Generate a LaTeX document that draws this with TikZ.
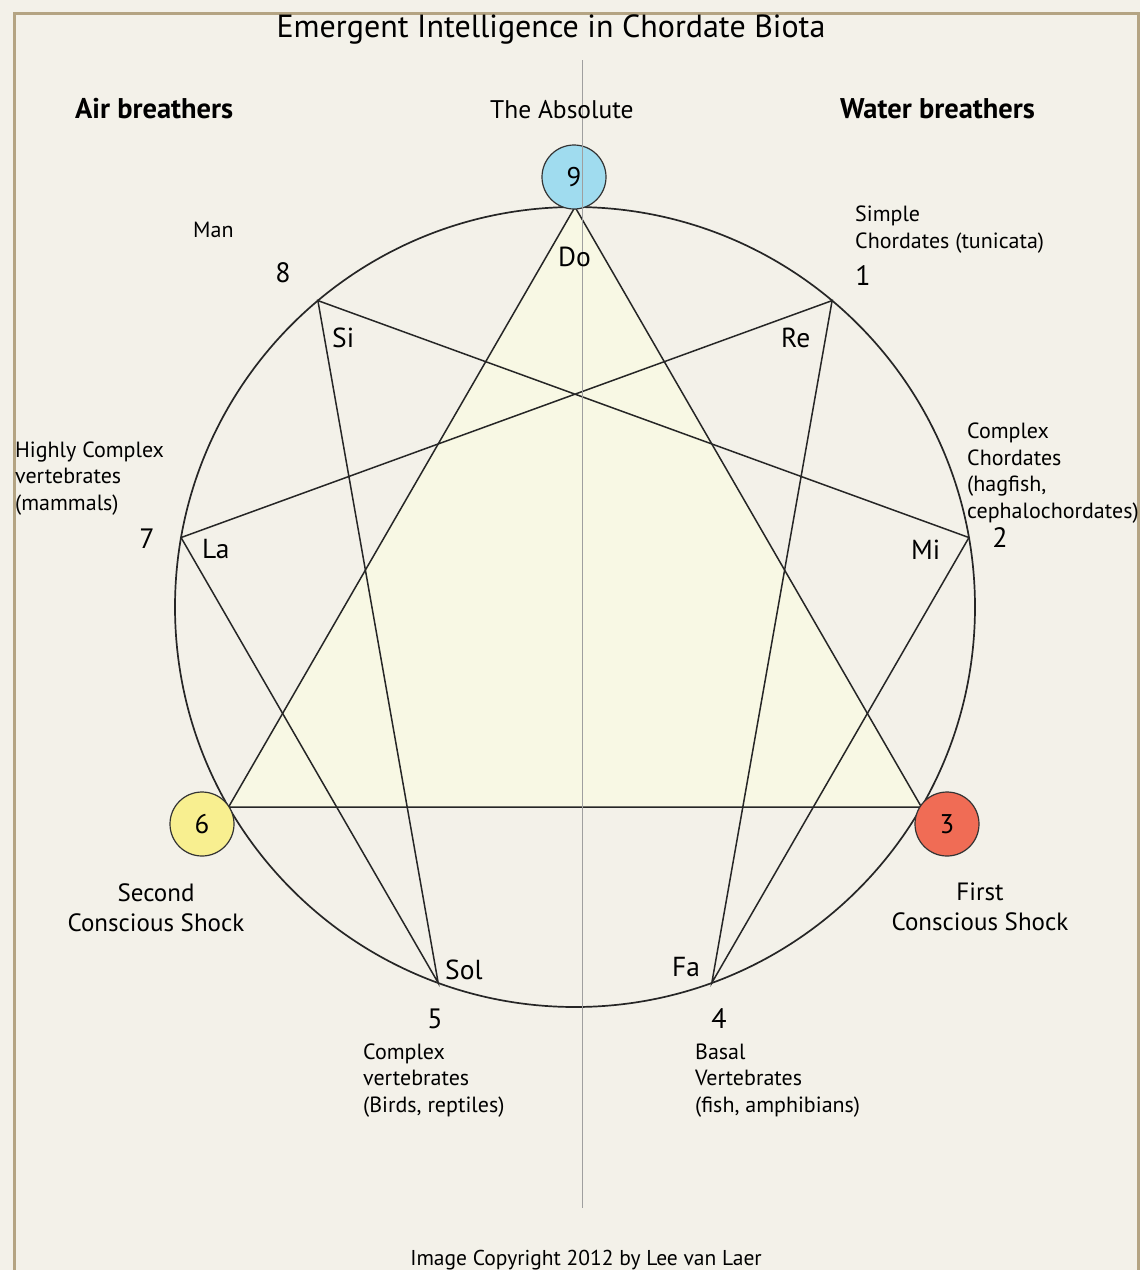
\documentclass[tikz,border=0pt]{standalone}
\usepackage{fontspec}
\setmainfont{PT Sans}
\usetikzlibrary{positioning, calc}
\definecolor{paperBg}{HTML}{F3F1E9}
\definecolor{frameTan}{HTML}{B4A483}
\definecolor{triYellow}{HTML}{F8F8E4}
\definecolor{absoluteBlue}{HTML}{A0DCEF}
\definecolor{shockRed}{HTML}{F06C55}
\definecolor{shockYellow}{HTML}{F8EF90}
\tikzset{
  ring_line/.style={draw=black!85, line width=1.7pt},
  chord_line/.style={draw=black!85, line width=1.5pt},
  axis_line/.style={draw=gray!75, line width=1pt},
  shock_dot/.style={circle, draw=black!80, line width=1.2pt, minimum size=64pt, inner sep=0pt, font=\fontsize{27}{27}\selectfont},
  note_text/.style={anchor=base west, align=left, inner sep=0pt, font=\fontsize{22}{26.5}\selectfont},
  num_text/.style={anchor=base, inner sep=0pt, font=\fontsize{28}{28}\selectfont},
  tone_text/.style={anchor=base west, inner sep=0pt, font=\fontsize{27.5}{27.5}\selectfont},
  head_text/.style={anchor=base west, inner sep=0pt, font=\fontsize{28.5}{28.5}\selectfont\bfseries},
  shock_text/.style={anchor=base, align=center, inner sep=0pt, font=\fontsize{25}{30}\selectfont}
}

\begin{document}
\begin{tikzpicture}[x=1pt, y=-1pt]

  % --- Paper and frame ---
  \fill[paperBg] (0,0) rectangle (1140,1270);
  \useasboundingbox (0,0) rectangle (1140,1270);
  \draw[frameTan, line width=3pt] (14,1272) -- (14,13) -- (1138,13) -- (1138,1272);

  % --- Geometry Definitions ---
  \def\cx{575}
  \def\cy{607}
  \def\rad{400}

  % --- Nine points on the ring ---
  \foreach \k in {0,...,8} {
    \coordinate (p\k) at ({\cx+\rad*cos(90-40*\k)}, {\cy-\rad*sin(90-40*\k)});
  }

  % --- Triangle 9-3-6 ---
  \filldraw[chord_line, fill=triYellow] (p0) -- (p3) -- (p6) -- cycle;

  % --- Ring ---
  \node[ring_line, circle, minimum size=800pt, inner sep=0pt] (ring) at (\cx,\cy) {};

  % --- Hexad 1-4-2-8-5-7 ---
  \draw[chord_line] (p1) -- (p4) -- (p2) -- (p8) -- (p5) -- (p7) -- cycle;

  % --- Shock dots ---
  \node[shock_dot, fill=absoluteBlue] (dot9) at (574,177) {9};
  \node[shock_dot, fill=shockRed] (dot3) at (947,824) {3};
  \node[shock_dot, fill=shockYellow] (dot6) at (202,824) {6};

  % --- Axis ---
  \coordinate (axis_top) at (582,60);
  \coordinate (axis_bot) at (582,1208);
  \draw[axis_line] (axis_top) -- (axis_bot);

  % --- Headings ---
  \node[anchor=base, inner sep=0pt, font=\fontsize{32}{32}\selectfont] (title) at (551,37) {Emergent Intelligence in Chordate Biota};
  \node[head_text] (air) at (75,118) {Air breathers};
  \node[head_text, font=\fontsize{25.5}{25.5}\selectfont\mdseries] (absolute) at (490,118) {The Absolute};
  \node[head_text] (water) at (840,118) {Water breathers};

  % --- Numbers ---
  \node[num_text] (n8) at (283,282) {8};
  \node[num_text] (n1) at (863,285) {1};
  \node[num_text] (n7) at (147,548) {7};
  \node[num_text] (n2) at (1000,547) {2};
  \node[num_text] (n5) at (435,1028) {5};
  \node[num_text] (n4) at (719,1028) {4};

  % --- Notes ---
  \node[tone_text] (do) at (558,266) {Do};
  \node[tone_text] (re) at (781,347) {Re};
  \node[tone_text] (mi) at (911,559) {Mi};
  \node[tone_text] (fa) at (672,976) {Fa};
  \node[tone_text] (sol) at (445,979) {Sol};
  \node[tone_text] (la) at (202,558) {La};
  \node[tone_text] (si) at (332,347) {Si};

  % --- Descriptions (anchored on the last line) ---
  \node[note_text] (man) at (193,237) {Man};
  \node[note_text] (tunicata) at (855,248) {Simple\\Chordates (tunicata)};
  \node[note_text] (hagfish) at (967,518) {Complex\\Chordates\\(hagfish,\\cephalochordates)};
  \node[note_text] (mammals) at (15,510) {Highly Complex\\vertebrates\\(mammals)};
  \node[note_text] (birds) at (363,1112) {Complex\\vertebrates\\(Birds, reptiles)};
  \node[note_text] (fish) at (695,1112) {Basal\\Vertebrates\\(fish, amphibians)};

  % --- Shocks ---
  \node[shock_text] (second) at (156,931) {Second\\Conscious Shock};
  \node[shock_text] (first) at (980,930) {First\\Conscious Shock};

  % --- Copyright ---
  \node[anchor=base, inner sep=0pt, font=\fontsize{21.5}{21.5}\selectfont] (copy) at (586,1265) {Image Copyright 2012 by Lee van Laer};

\end{tikzpicture}
\end{document}
